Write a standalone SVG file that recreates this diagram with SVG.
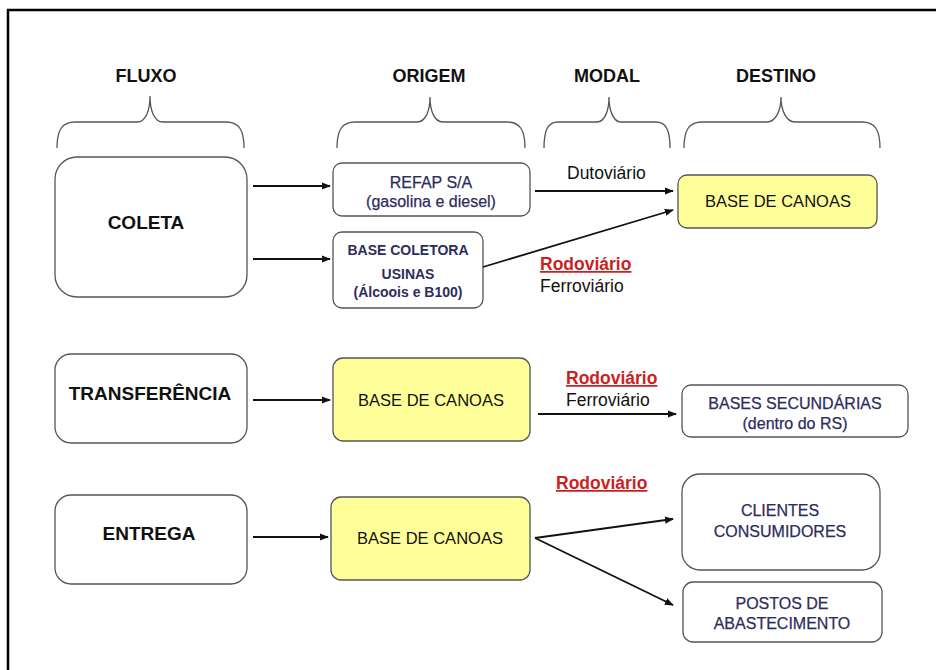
<svg xmlns="http://www.w3.org/2000/svg" width="936" height="670" viewBox="0 0 936 670">
<defs>
<marker id="ah" viewBox="0 0 10 10" refX="9" refY="5" markerWidth="9" markerHeight="9" markerUnits="userSpaceOnUse" orient="auto">
<path d="M0,1 L10,5 L0,9 z" fill="#111"/>
</marker>
</defs>
<style>
.hdr{font-family:"Liberation Sans",Arial,sans-serif;font-weight:bold;font-size:18px;fill:#111;text-anchor:middle}
.flx{font-family:"Liberation Sans",Arial,sans-serif;font-weight:bold;font-size:19px;fill:#111;text-anchor:middle}
.box{fill:#fff;stroke:#555;stroke-width:1.3}
.ybox{fill:#ffff99;stroke:#555;stroke-width:1.3}
.nv{font-family:"Liberation Sans",Arial,sans-serif;font-size:16px;fill:#2d2d5c;stroke:#2d2d5c;stroke-width:0.25;text-anchor:middle}
.nvb{font-family:"Liberation Sans",Arial,sans-serif;font-size:14px;font-weight:bold;fill:#2d2d5c;text-anchor:middle}
.bk{font-family:"Liberation Sans",Arial,sans-serif;font-size:16.5px;fill:#111;text-anchor:middle}
.md{font-family:"Liberation Sans",Arial,sans-serif;font-size:17.5px;fill:#111}
.rd{font-family:"Liberation Sans",Arial,sans-serif;font-size:17.5px;font-weight:bold;fill:#cc1f1f;text-decoration:underline}
.brace{fill:none;stroke:#555;stroke-width:1.3}
.con{fill:none;stroke:#111;stroke-width:1.8}
</style>
<rect x="0" y="0" width="936" height="670" fill="#fff"/>
<path d="M8,670 L8,10 L936,10" fill="none" stroke="#000" stroke-width="2.5"/>

<g id="headers">
<text class="hdr" x="146" y="82">FLUXO</text>
<text class="hdr" x="429" y="82">ORIGEM</text>
<text class="hdr" x="607" y="82">MODAL</text>
<text class="hdr" x="776" y="82">DESTINO</text>
<path class="brace" d="M57,148 C57,130 62,122 75,122 L137,122 C146,122 150,110 150,96 C150,110 154,122 163,122 L226,122 C239,122 244,130 244,148"/>
<path class="brace" d="M337,148 C337,130 342,122 355,122 L417,122 C426,122 430,110 430,97 C430,110 434,122 443,122 L507,122 C520,122 525,130 525,148"/>
<path class="brace" d="M544,148 C544,130 548,122 558,122 L597,122 C605,122 609,110 609,97 C609,110 613,122 621,122 L656,122 C666,122 670,130 670,148"/>
<path class="brace" d="M684,148 C684,130 689,122 702,122 L767,122 C776,122 781,110 781,97 C781,110 786,122 795,122 L862,122 C875,122 880,130 880,148"/>
</g>

<g id="coleta">
<rect class="box" x="55" y="157" width="192" height="140" rx="22"/>
<text class="flx" x="146" y="229" font-size="20">COLETA</text>
</g>
<g id="refap">
<rect class="box" x="333" y="163" width="197" height="53" rx="9"/>
<text class="nv" x="431" y="188">REFAP S/A</text>
<text class="nv" x="431" y="207">(gasolina e diesel)</text>
</g>
<g id="base-coletora">
<rect class="box" x="333" y="232" width="150" height="76" rx="9"/>
<text class="nvb" x="408" y="255" font-size="12.5">BASE COLETORA</text>
<text class="nvb" x="408" y="279">USINAS</text>
<text class="nvb" x="408" y="297">(Álcoois e B100)</text>
</g>
<g id="canoas-1">
<rect class="ybox" x="678" y="175" width="199" height="53" rx="9"/>
<text class="bk" x="778" y="207">BASE DE CANOAS</text>
</g>

<g id="transferencia">
<rect class="box" x="55" y="354" width="192" height="89" rx="16"/>
<text class="flx" x="150" y="400">TRANSFERÊNCIA</text>
</g>
<g id="canoas-2">
<rect class="ybox" x="333" y="358" width="197" height="83" rx="10"/>
<text class="bk" x="431" y="406">BASE DE CANOAS</text>
</g>
<g id="bases-secundarias">
<rect class="box" x="682" y="385" width="226" height="52" rx="9"/>
<text class="nv" x="795" y="409" font-size="17">BASES SECUNDÁRIAS</text>
<text class="nv" x="795" y="429" font-size="17">(dentro do RS)</text>
</g>

<g id="entrega">
<rect class="box" x="55" y="495" width="192" height="89" rx="16"/>
<text class="flx" x="149" y="540">ENTREGA</text>
</g>
<g id="canoas-3">
<rect class="ybox" x="331" y="497" width="199" height="83" rx="10"/>
<text class="bk" x="430" y="544">BASE DE CANOAS</text>
</g>
<g id="clientes">
<rect class="box" x="682" y="474" width="198" height="96" rx="18"/>
<text class="nv" x="780" y="516">CLIENTES</text>
<text class="nv" x="780" y="537">CONSUMIDORES</text>
</g>
<g id="postos">
<rect class="box" x="683" y="582" width="199" height="60" rx="10"/>
<text class="nv" x="782" y="609">POSTOS DE</text>
<text class="nv" x="782" y="629">ABASTECIMENTO</text>
</g>

<g id="labels">
<text class="md" x="567" y="179">Dutoviário</text>
<text class="rd" x="540" y="270">Rodoviário</text>
<text class="md" x="540" y="292">Ferroviário</text>
<text class="rd" x="566" y="384">Rodoviário</text>
<text class="md" x="566" y="406">Ferroviário</text>
<text class="rd" x="556" y="489">Rodoviário</text>
</g>

<g id="connectors">
<line class="con" x1="253" y1="186" x2="330" y2="186" marker-end="url(#ah)"/>
<line class="con" x1="253" y1="259" x2="330" y2="259" marker-end="url(#ah)"/>
<line class="con" x1="535" y1="191" x2="673" y2="191" marker-end="url(#ah)"/>
<line class="con" x1="483" y1="267" x2="673" y2="210" marker-end="url(#ah)"/>
<line class="con" x1="253" y1="400" x2="330" y2="400" marker-end="url(#ah)"/>
<line class="con" x1="538" y1="414" x2="676" y2="414" marker-end="url(#ah)"/>
<line class="con" x1="253" y1="537" x2="328" y2="537" marker-end="url(#ah)"/>
<line class="con" x1="535" y1="538" x2="673" y2="519" marker-end="url(#ah)"/>
<line class="con" x1="535" y1="538" x2="673" y2="605" marker-end="url(#ah)"/>
</g>
</svg>
